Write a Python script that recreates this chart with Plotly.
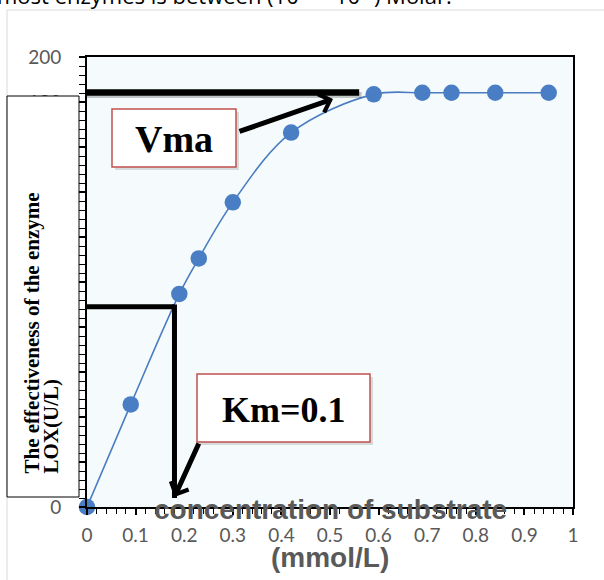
import plotly.graph_objects as go

# ---- data ----
conc = [0, 0.09, 0.19, 0.23, 0.30, 0.42, 0.59, 0.69, 0.75, 0.84, 0.95]
activity = [0, 45.6, 94.7, 110.5, 135.4, 166.4, 183.4, 184.1, 184.1, 184.1, 184.1]

x_ticks = [0, 0.1, 0.2, 0.3, 0.4, 0.5, 0.6, 0.7, 0.8, 0.9, 1]
x_tick_labels = ["0", "0.1", "0.2", "0.3", "0.4", "0.5", "0.6", "0.7", "0.8", "0.9", "1"]

vmax_level = 184.2      # horizontal Vmax guide line
vmax_line_end = 0.56
km_level = 89           # half-Vmax guide line
km_x = 0.18             # Km guide line

# ---- layout geometry (pixels) ----
W, H = 604, 580
L, R, T, B = 87, 573, 57, 507
PW, PH = R - L, B - T


def px(xp):
    return (xp - L) / PW


def py(yp):
    return (B - yp) / PH


fig = go.Figure()
fig.add_trace(go.Scatter(
    x=conc, y=activity, mode="lines+markers",
    line=dict(color="#4a7cc2", width=1.6, shape="spline", smoothing=1.0),
    marker=dict(color="#4a7ec4", size=16.5),
    cliponaxis=False, showlegend=False,
))

shapes = []
# outer chart-area border
shapes.append(dict(type="rect", xref="paper", yref="paper",
                   x0=px(7), x1=px(660), y0=py(660), y1=py(10),
                   line=dict(color="#d9d9d9", width=1), layer="above"))
# shadow for Vmax guide line
sh = 2.5
shapes.append(dict(type="line", xref="x", yref="y",
                   x0=0, x1=vmax_line_end + sh / PW, y0=vmax_level - sh * 200 / PH, y1=vmax_level - sh * 200 / PH,
                   line=dict(color="rgba(0,0,0,0.22)", width=6), layer="above"))
# Vmax line
shapes.append(dict(type="line", xref="x", yref="y",
                   x0=0, x1=vmax_line_end, y0=vmax_level, y1=vmax_level,
                   line=dict(color="black", width=6.5), layer="above"))
# Km lines
shapes.append(dict(type="line", xref="x", yref="y",
                   x0=0, x1=km_x, y0=km_level, y1=km_level,
                   line=dict(color="black", width=5), layer="above"))
shapes.append(dict(type="line", xref="x", yref="y",
                   x0=km_x, x1=km_x, y0=km_level + 1.0, y1=4,
                   line=dict(color="black", width=5), layer="above"))

# box shadows + boxes
for (x0, y0, x1, y1) in [(112, 109, 236, 167), (197, 374, 370, 442)]:
    shapes.append(dict(type="rect", xref="paper", yref="paper",
                       x0=px(x0 + 3), x1=px(x1 + 3), y0=py(y1 + 3), y1=py(y0 + 3),
                       fillcolor="rgba(0,0,0,0.13)", line=dict(width=0), layer="above"))
    shapes.append(dict(type="rect", xref="paper", yref="paper",
                       x0=px(x0), x1=px(x1), y0=py(y1), y1=py(y0),
                       fillcolor="white", line=dict(color="#c0504d", width=1.5), layer="above"))

# y-title box covering tick labels
shapes.append(dict(type="rect", xref="paper", yref="paper",
                   x0=px(7), x1=px(79), y0=py(497), y1=py(96),
                   fillcolor="white", line=dict(color="black", width=1), layer="above"))

annotations = []
serif = "Liberation Serif, Times New Roman, serif"
annotations.append(dict(xref="paper", yref="paper", x=px(174), y=py(139),
                        xanchor="center", yanchor="middle",
                        text="<b>Vma</b>", showarrow=False,
                        font=dict(family=serif, size=38, color="black")))
annotations.append(dict(xref="paper", yref="paper", x=px(283.5), y=py(410),
                        xanchor="center", yanchor="middle",
                        text="<b>Km=0.1</b>", showarrow=False,
                        font=dict(family=serif, size=36, color="black")))
# arrows
annotations.append(dict(xref="x", yref="y", x=(333 - L) / PW, y=(B - 99) * 200 / PH,
                        ax=238 - 333, ay=132 - 99, text="", showarrow=True,
                        arrowhead=4, arrowsize=0.75, arrowwidth=5, arrowcolor="black"))
annotations.append(dict(xref="x", yref="y", x=km_x, y=(B - 497) * 200 / PH,
                        ax=200 - 175, ay=442 - 497, text="", showarrow=True,
                        arrowhead=4, arrowsize=0.75, arrowwidth=5, arrowcolor="black"))
# y title (two rotated lines)
annotations.append(dict(xref="paper", yref="paper", x=px(31), y=py(476),
                        xanchor="center", yanchor="bottom", textangle=-90,
                        text="<b>The effectiveness of the enzyme</b>", showarrow=False,
                        font=dict(family=serif, size=21, color="black")))
annotations.append(dict(xref="paper", yref="paper", x=px(50), y=py(476),
                        xanchor="center", yanchor="bottom", textangle=-90,
                        text="<b>LOX(U/L)</b>", showarrow=False,
                        font=dict(family=serif, size=21, color="black")))
# x title (two pieces)
sans = "Liberation Sans, Arial, sans-serif"
annotations.append(dict(xref="paper", yref="paper", x=px(330), y=py(509),
                        xanchor="center", yanchor="middle",
                        text="<b>concentration of substrate</b>", showarrow=False,
                        font=dict(family=sans, size=28, color="#595959")))
annotations.append(dict(xref="paper", yref="paper", x=px(330), y=py(557),
                        xanchor="center", yanchor="middle",
                        text="<b>(mmol/L)</b>", showarrow=False,
                        font=dict(family=sans, size=28, color="#595959")))
# cropped heading text at the very top
annotations.append(dict(xref="paper", yref="paper", x=px(-5), y=py(-6),
                        xanchor="left", yanchor="middle",
                        text="most enzymes is between (10<sup>-1</sup> – 10<sup>-6</sup>) Molar.",
                        showarrow=False,
                        font=dict(family="Open Sans, sans-serif", size=22, color="black")))

tickfont = dict(family="Lato, sans-serif", size=19, color="#595959")
fig.update_layout(
    width=W, height=H, autosize=False,
    margin=dict(l=L, r=W - R, t=T, b=H - B, pad=0),
    paper_bgcolor="white", plot_bgcolor="#f5fbfc",
    shapes=shapes, annotations=annotations,
    xaxis=dict(range=[0, 1], tickvals=x_ticks, ticktext=x_tick_labels,
               showgrid=False, zeroline=False,
               showline=True, linecolor="black", linewidth=2, mirror=True,
               ticks="outside", ticklen=6, tickwidth=1.5, tickcolor="black",
               minor=dict(ticks="outside", dtick=0.02, ticklen=5, tickwidth=1, tickcolor="black"),
               tickfont=tickfont, ticklabelstandoff=4),
    yaxis=dict(range=[0, 200], dtick=20,
               showgrid=False, zeroline=False,
               showline=True, linecolor="black", linewidth=2, mirror=True,
               ticks="outside", ticklen=6, tickwidth=1.5, tickcolor="black",
               minor=dict(ticks="outside", dtick=4, ticklen=6, tickwidth=1, tickcolor="black"),
               tickfont=tickfont, ticklabelstandoff=14),
)

fig.write_html("out.html")
